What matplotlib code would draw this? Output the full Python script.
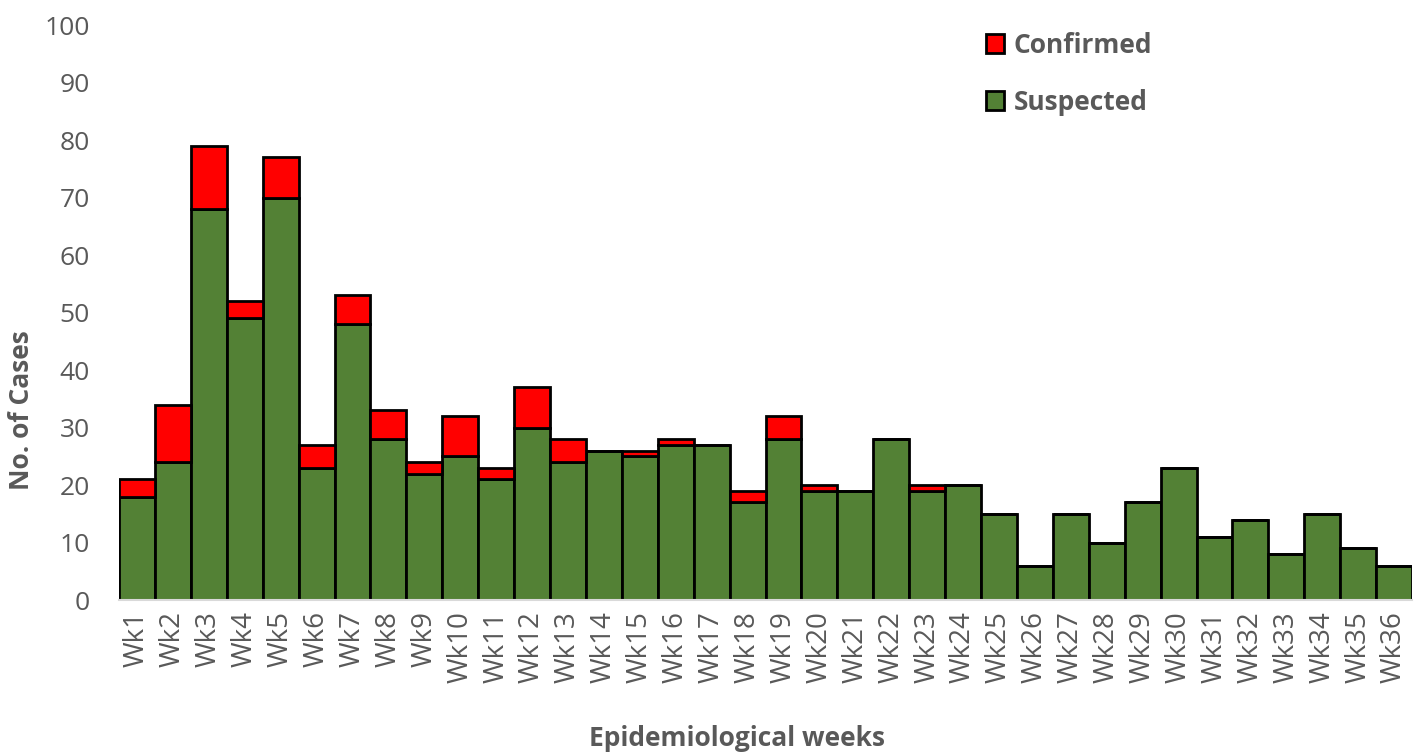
import matplotlib
matplotlib.use("Agg")
import matplotlib.pyplot as plt
import numpy as np

weeks = [f"Wk{i}" for i in range(1, 37)]
suspected = [18, 24, 68, 49, 70, 23, 48, 28, 22, 25, 21, 30, 24, 26, 25, 27, 27, 17,
             28, 19, 19, 28, 19, 20, 15, 6, 15, 10, 17, 23, 11, 14, 8, 15, 9, 6]
confirmed = [3, 10, 11, 3, 7, 4, 5, 5, 2, 7, 2, 7, 4, 0, 1, 1, 0, 2,
             4, 1, 0, 0, 1, 0, 0, 0, 0, 0, 0, 0, 0, 0, 0, 0, 0, 0]

plt.rcParams['font.family'] = ['Open Sans', 'DejaVu Sans']
grey = '#595959'

fig = plt.figure(figsize=(14.14, 7.54), dpi=100)
ax = fig.add_axes([0.0842, 0.2042, 0.9144, 0.7626])

x = np.arange(len(weeks))
ax.bar(x, suspected, width=1.0, color='#538135', edgecolor='black', linewidth=2,
       label='Suspected', zorder=2)
ax.bar(x, confirmed, width=1.0, bottom=suspected, color='#FF0000', edgecolor='black',
       linewidth=2, label='Confirmed', zorder=2)

ax.set_xlim(-0.5, len(weeks) - 0.5)
ax.set_ylim(0, 100)
ax.set_yticks(range(0, 101, 10))
ax.set_xticks(x)
ax.set_xticklabels(weeks, rotation=90)
ax.tick_params(axis='both', length=0, colors=grey)
ax.tick_params(axis='y', labelsize=19, pad=21)
ax.tick_params(axis='x', labelsize=20, pad=8)
for s in ['top', 'right', 'left']:
    ax.spines[s].set_visible(False)
ax.spines['bottom'].set_color('#d9d9d9')
ax.spines['bottom'].set_linewidth(1.5)

fig.text(22 / 1414, 1 - 410 / 754, 'No. of Cases', fontsize=19, fontweight='bold',
         color=grey, ha='center', va='center', rotation=90)
fig.text(737 / 1414, 1 - 738 / 754, 'Epidemiological weeks', fontsize=19, fontweight='bold',
         color=grey, ha='center', va='center')

handles, labels = ax.get_legend_handles_labels()
leg = ax.legend(handles[::-1], labels[::-1], loc='upper left',
                bbox_to_anchor=(0.652, 1.03), frameon=False, fontsize=19,
                handlelength=0.7, handleheight=0.7, labelspacing=1.15, handletextpad=0.35)
for t in leg.get_texts():
    t.set_color(grey)
    t.set_fontweight('bold')

fig.savefig('out.png', dpi=100)
